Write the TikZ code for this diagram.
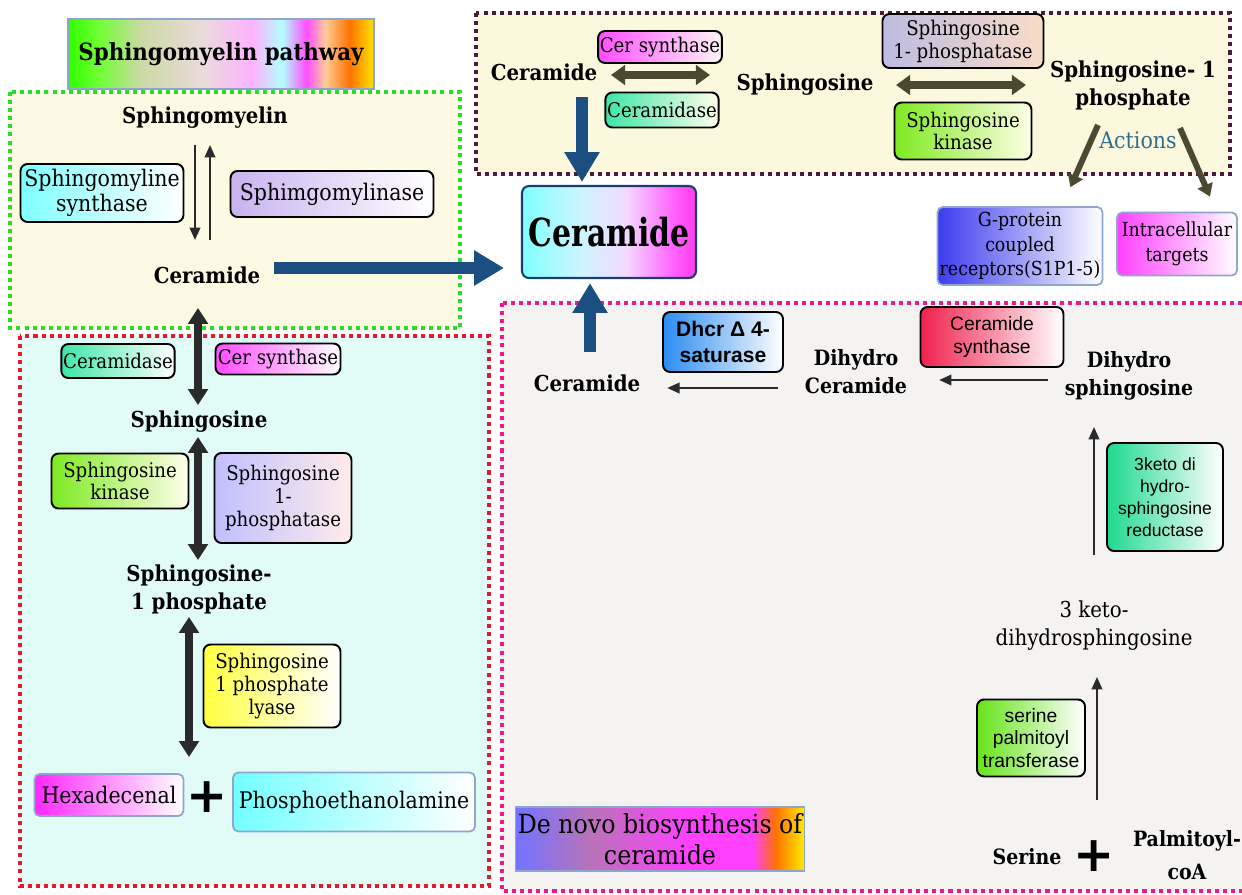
\documentclass[tikz,border=0pt]{standalone}
\usepackage{fontspec}
\setmainfont{DejaVu Serif Condensed}
\newfontfamily\biofont{Liberation Sans}
\newfontfamily\plusfont{DejaVu Sans}
\usetikzlibrary{arrows.meta,calc}

% colours
\definecolor{cerblue}{HTML}{1B4F82}
\definecolor{olivearrow}{HTML}{4B4A30}
\definecolor{darkarrow}{HTML}{2A2A2A}
\definecolor{actionteal}{HTML}{2F6D8C}
\definecolor{smgreen}{HTML}{2BDC2B}
\definecolor{smfill}{HTML}{FCFAE2}
\definecolor{maroon}{HTML}{4D1A3B}
\definecolor{topfill}{HTML}{FBF8DE}
\definecolor{lyred}{HTML}{E8182C}
\definecolor{lyfill}{HTML}{E1FBF7}
\definecolor{dnpink}{HTML}{EC1A8C}
\definecolor{dnfill}{HTML}{F4F3F1}
\definecolor{tgtborder}{HTML}{8FA6CC}
\definecolor{navy}{HTML}{1A3E70}
\definecolor{lavender}{HTML}{C9B2F0}
\definecolor{mint}{HTML}{3DE6A6}
\definecolor{kinasegreen}{HTML}{7EEA20}
\definecolor{phosgrey}{HTML}{BDBCE0}
\definecolor{peach}{HTML}{F8DCC8}
\definecolor{kdsrgreen}{HTML}{1ED98E}
\definecolor{cersynred}{HTML}{F0214D}
\definecolor{dhcrblue}{HTML}{2B8CF0}
\definecolor{sptgreen}{HTML}{66E41A}
\definecolor{gpcrblue}{HTML}{3C3CF0}

% multi-stop fills for the two titles and the central box
\pgfdeclarehorizontalshading{smshade}{100bp}{color(0bp)=(green!80!lime); color(25bp)=(green!75!lime);
  color(30bp)=(green!60!lime!80!white); color(37bp)=(lime!40!gray!50!white); color(47bp)=(pink!60!gray!40!white);
  color(55bp)=(magenta!30!white); color(60bp)=(cyan!30!white); color(64bp)=(magenta!70!white);
  color(67bp)=(orange!40!white); color(71bp)=(orange!90!red); color(75bp)=(yellow!80!orange); color(100bp)=(yellow!80!orange)}
\pgfdeclarehorizontalshading{dnshade}{100bp}{color(0bp)=(blue!55!white); color(25bp)=(blue!55!white);
  color(38bp)=(violet!55!white); color(55bp)=(magenta!75!white); color(66bp)=(magenta!75!white);
  color(70bp)=(orange!90!red); color(75bp)=(yellow!85!orange); color(100bp)=(yellow!85!orange)}
\pgfdeclarehorizontalshading{cershade}{100bp}{color(0bp)=(cyan!50!white); color(25bp)=(cyan!50!white);
  color(42bp)=(blue!20!cyan!20!white); color(55bp)=(blue!30!magenta!15!white); color(68bp)=(magenta!60!white);
  color(75bp)=(magenta!70!pink); color(100bp)=(magenta!70!pink)}

\tikzset{
  region/.style={line width=2.3pt, dash pattern=on 2.3pt off 2.3pt},
  lipid/.style={font=\bfseries\fontsize{12.5}{16}\selectfont, align=center, inner sep=1pt},
  enzyme/.style={draw=black, line width=1.1pt, rounded corners=4pt, align=center, inner sep=1pt,
    font=\fontsize{11.5}{13}\selectfont, right color=white},
  biobox/.style={enzyme, font=\biofont\fontsize{10}{12.5}\selectfont},
  target/.style={draw=tgtborder, line width=1pt, rounded corners=3pt, align=center, inner sep=1pt,
    font=\fontsize{11}{14}\selectfont, right color=white},
  titlebox/.style={draw=tgtborder, line width=1pt, shade, align=center, inner sep=1pt},
  plus/.style={font=\plusfont\bfseries\fontsize{28}{28}\selectfont, inner sep=0pt},
  bigarrow/.style={draw=cerblue, line width=7pt, -{Triangle[length=17pt,width=19pt]}},
  twoway/.style={draw=olivearrow, line width=4.5pt, {Triangle[length=8pt,width=11pt]}-{Triangle[length=8pt,width=11pt]}},
  stemarrow/.style={draw=darkarrow, line width=4.5pt, {Triangle[length=9pt,width=11pt]}-{Triangle[length=9pt,width=11pt]}},
  actarrow/.style={draw=olivearrow, line width=3.4pt, -{Triangle[length=7pt,width=9pt]}},
  thinarrow/.style={draw=darkarrow, line width=1.1pt, -{Triangle[length=7pt,width=6pt]}}
}

\begin{document}
\begin{tikzpicture}[x=0.02cm,y=-0.02cm]
\clip (0,0) rectangle (1242,894);

% the four dotted regions
\draw[region, draw=smgreen, fill=smfill] (10,92) rectangle (460,328);
\draw[region, draw=maroon, fill=topfill] (476,13) rectangle (1230,174);
\draw[region, draw=lyred, fill=lyfill] (20,336) rectangle (489,886);
\draw[region, draw=dnpink, fill=dnfill] (502,303) rectangle (1262,891);

% titles
\node[titlebox, shading=smshade, minimum width=6.12cm, minimum height=1.4cm,
  font=\bfseries\fontsize{13.5}{17}\selectfont] (smtitle) at (221,54) {Sphingomyelin pathway};
\node[titlebox, shading=dnshade, minimum width=5.78cm, minimum height=1.28cm,
  font=\fontsize{15}{17.5}\selectfont] (dntitle) at (660,839) {De novo biosynthesis of\\ceramide};

% sphingomyelin pathway
\node[lipid] (smyelin) at (205,118) {Sphingomyelin};
\node[lipid] (cerL) at (207,275) {Ceramide};
\node[enzyme, left color=cyan!50!white, minimum width=3.26cm, minimum height=1.16cm,
  font=\fontsize{13}{14.5}\selectfont] (smsyn) at (102,193) {Sphingomyline\\synthase};
\node[enzyme, left color=lavender, minimum width=4.06cm, minimum height=0.92cm,
  font=\fontsize{13}{14.5}\selectfont] (smase) at (332,194) {Sphimgomylinase};
\draw[thinarrow] ($(smyelin)+(-10,27)$) -- ($(cerL)+(-12,-35)$);
\draw[thinarrow] ($(cerL)+(3,-35)$) -- ($(smyelin)+(5,27)$);

% central ceramide
\node[draw=navy, line width=1.2pt, rounded corners=4pt, shade, shading=cershade,
  minimum width=3.48cm, minimum height=1.84cm, inner sep=0pt,
  font=\bfseries\fontsize{22}{26}\selectfont] (cerbox) at (609,232) {\scalebox{0.86}[1]{Ceramide}};
\draw[bigarrow] ($(cerL)+(67,-7)$) -- ($(cerbox.west)+(-17,36)$);

% salvage pathway (top)
\node[lipid] (cerT) at (544,72) {Ceramide};
\node[lipid] (sphT) at (805,85) {Sphingosine};
\node[lipid] (s1pT) at (1133,85) {Sphingosine- 1\\phosphate};
\node[enzyme, left color=magenta!70!white, right color=pink!15!white, minimum width=2.46cm, minimum height=0.64cm] (csynT) at (660,47) {Cer synthase};
\node[enzyme, left color=mint, right color=yellow!8!white, minimum width=2.26cm, minimum height=0.7cm] (cdaseT) at (662,110) {Ceramidase};
\node[enzyme, left color=phosgrey, right color=peach, minimum width=3.22cm, minimum height=1.08cm] (sppT) at (963,41) {Sphingosine\\1- phosphatase};
\node[enzyme, left color=kinasegreen, right color=yellow!10!white, minimum width=2.74cm, minimum height=1.14cm] (skT) at (963,131) {Sphingosine\\kinase};
\draw[twoway] ($(cerT)+(67,3)$) -- ($(sphT)+(-95,-10)$);
\draw[twoway] ($(sphT)+(91,0)$) -- ($(s1pT)+(-107,0)$);
\draw[bigarrow] ($(cerT)+(38,25)$) -- ($(cerbox.north)+(-27,-3)$);

% actions of S1P
\node[font=\fontsize{13}{15}\selectfont, text=actionteal] (actions) at (1138,140) {Actions};
\node[target, left color=gpcrblue, minimum width=3.3cm, minimum height=1.56cm] (gpcr) at (1020,246) {G-protein\\coupled\\receptors(S1P1-5)};
\node[target, left color=magenta!75!white, minimum width=2.4cm, minimum height=1.26cm] (intra) at (1177,244) {Intracellular\\targets};
\draw[actarrow] ($(s1pT)+(-35,40)$) -- ($(gpcr.north east)+(-33,-19)$);
\draw[actarrow] ($(s1pT)+(47,43)$) -- ($(intra.north)+(33,-15)$);

% sphingosine-1-phosphate degradation
\node[lipid] (sphL) at (199,422) {Sphingosine};
\node[lipid] (s1pL) at (199,589) {Sphingosine-\\1 phosphate};
\node[enzyme, left color=mint, right color=white, minimum width=2.22cm, minimum height=0.68cm] (cdaseL) at (118,361) {Ceramidase};
\node[enzyme, left color=magenta!70!white, minimum width=2.5cm, minimum height=0.62cm] (csynL) at (278,359) {Cer synthase};
\node[enzyme, left color=kinasegreen, right color=yellow!8!white, minimum width=2.74cm, minimum height=1.1cm] (skL) at (120,481) {Sphingosine\\kinase};
\node[enzyme, left color=blue!25!white, right color=pink!30!white, minimum width=2.74cm, minimum height=1.8cm] (sppL) at (283,498) {Sphingosine\\1-\\phosphatase};
\node[enzyme, left color=yellow!75!white, minimum width=2.74cm, minimum height=1.66cm] (lyase) at (272,686) {Sphingosine\\1 phosphate\\lyase};
\node[target, left color=magenta!85!white, minimum width=2.98cm, minimum height=0.84cm, font=\fontsize{13}{15}\selectfont] (hexa) at (109,795) {Hexadecenal};
\node[plus] (plusL) at (207,797) {+};
\node[target, left color=cyan!55!white, minimum width=4.84cm, minimum height=1.18cm, font=\fontsize{13}{15}\selectfont] (phos) at (354,802) {Phosphoethanolamine};
\draw[stemarrow] ($(cerL)+(-9,33)$) -- ($(sphL)+(-1,-17)$);
\draw[stemarrow] ($(sphL)+(-1,15)$) -- ($(s1pL)+(-1,-29)$);
\draw[stemarrow] ($(s1pL)+(-10,28)$) -- ($(plusL)+(-18,-40)$);

% de novo biosynthesis
\node[lipid] (cerR) at (587,383) {Ceramide};
\node[lipid, font=\bfseries\fontsize{12}{16}\selectfont] (dhcer) at (856,372) {Dihydro\\Ceramide};
\node[lipid, font=\bfseries\fontsize{12}{16}\selectfont] (dhsph) at (1129,376) {Dihydro\\sphingosine};
\node[lipid, font=\fontsize{12.5}{16}\selectfont] (keto) at (1094,626) {3 keto-\\dihydrosphingosine};
\node[lipid, font=\bfseries\fontsize{12}{15}\selectfont] (serine) at (1027,857) {Serine};
\node[plus] (plusR) at (1094,856) {+};
\node[lipid, font=\bfseries\fontsize{12}{19}\selectfont] (palm) at (1187,855) {Palmitoyl-\\coA};
\node[biobox, left color=dhcrblue, minimum width=2.4cm, minimum height=1.2cm,
  font=\biofont\bfseries\fontsize{12}{14.5}\selectfont] (dhcr) at (723,342) {Dhcr Δ 4-\\saturase};
\node[biobox, left color=cersynred, minimum width=2.86cm, minimum height=1.2cm,
  font=\biofont\fontsize{11}{13}\selectfont] (cersyn) at (992,337) {Ceramide\\synthase};
\node[biobox, left color=kdsrgreen, minimum width=2.32cm, minimum height=2.16cm] (kdsr) at (1165,497) {3keto di\\hydro-\\sphingosine\\reductase};
\node[biobox, left color=sptgreen, minimum width=2.16cm, minimum height=1.54cm,
  font=\biofont\fontsize{11}{13}\selectfont] (spt) at (1031,738) {serine\\palmitoyl\\transferase};
\draw[bigarrow] ($(cerR)+(3,-31)$) -- ($(cerbox.south)+(-19,4)$);
\draw[thinarrow] ($(dhcer.west)+(-25,16)$) -- ($(cerR.east)+(25,5)$);
\draw[thinarrow] ($(dhsph.west)+(-15,4)$) -- ($(dhcer.east)+(30,8)$);
\draw[thinarrow] ($(keto)+(0,-71)$) -- ($(dhsph)+(-35,51)$);
\draw[thinarrow] ($(plusR)+(3,-56)$) -- ($(keto)+(3,51)$);
\end{tikzpicture}
\end{document}
